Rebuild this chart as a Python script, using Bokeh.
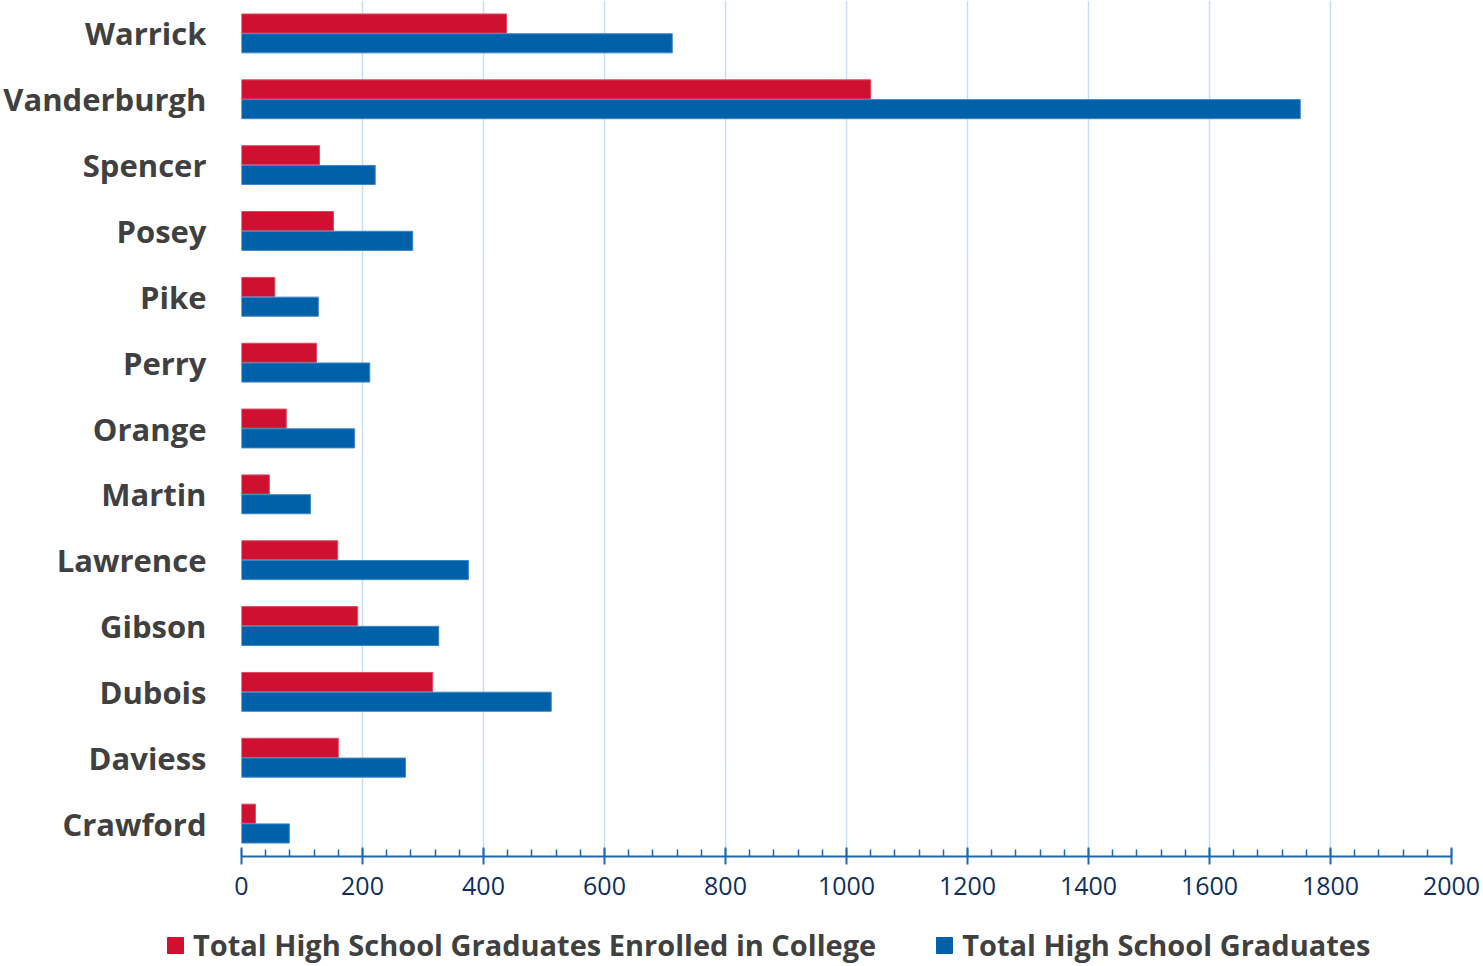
from bokeh.plotting import figure
from bokeh.models import (FactorRange, Range1d, Legend, LegendItem, SingleIntervalTicker,
                          LinearAxis, Grid, ColumnDataSource)
from bokeh.transform import dodge
from bokeh.embed import file_html
from bokeh.resources import INLINE

counties = ["Warrick", "Vanderburgh", "Spencer", "Posey", "Pike", "Perry", "Orange",
            "Martin", "Lawrence", "Gibson", "Dubois", "Daviess", "Crawford"]
enrolled = [438, 1040, 129, 152, 55, 124, 74, 46, 159, 192, 316, 160, 23]
graduates = [712, 1750, 221, 283, 127, 212, 187, 114, 375, 326, 512, 271, 79]
series_names = ["Total High School Graduates Enrolled in College", "Total High School Graduates"]

RED = "#CE1130"
BLUE = "#0060A8"

src = ColumnDataSource(dict(county=counties, enrolled=enrolled, graduates=graduates))

p = figure(y_range=FactorRange(factors=counties[::-1]), x_range=Range1d(0, 2000),
           frame_width=1210, frame_height=856, min_border_left=238, min_border_right=32,
           min_border_top=0, min_border_bottom=0,
           output_backend="svg", toolbar_location=None, x_axis_location=None)
p.outline_line_color = None
p.background_fill_color = "white"

p.hbar(y=dodge("county", 0.15, range=p.y_range), right="enrolled", left=0, height=0.29,
       source=src, fill_color=RED, line_color="#D94A5F", line_width=1)
p.hbar(y=dodge("county", -0.15, range=p.y_range), right="graduates", left=0, height=0.29,
       source=src, fill_color=BLUE, line_color="#3C86C8", line_width=1)

xaxis = LinearAxis(ticker=SingleIntervalTicker(interval=200, num_minor_ticks=5))
xaxis.axis_line_color = "#1F68B0"
xaxis.axis_line_width = 2
xaxis.major_tick_line_color = "#1F68B0"
xaxis.major_tick_line_width = 2
xaxis.major_tick_in = 9
xaxis.major_tick_out = 8
xaxis.minor_tick_line_color = "#1F68B0"
xaxis.minor_tick_line_width = 1.5
xaxis.minor_tick_in = 7
xaxis.minor_tick_out = 0
xaxis.major_label_text_font = "Open Sans"
xaxis.major_label_text_font_size = "25px"
xaxis.major_label_text_color = "#0E2F5E"
xaxis.major_label_standoff = 12
p.add_layout(xaxis, "below")

p.xgrid.grid_line_color = None
g = Grid(dimension=0, ticker=xaxis.ticker, grid_line_color="#C6DEF8", grid_line_width=1.5)
p.add_layout(g)
p.ygrid.grid_line_color = None

ya = p.yaxis[0]
ya.axis_line_color = None
ya.major_tick_line_color = None
ya.minor_tick_line_color = None
ya.major_label_text_font = "Open Sans"
ya.major_label_text_font_style = "bold"
ya.major_label_text_font_size = "31px"
ya.major_label_text_color = "#404040"
ya.major_label_standoff = 29

# legend strip: same series, drawn off-range so only the legend swatches show
p2 = figure(width=1480, height=67, x_range=Range1d(-10, -5),
            y_range=FactorRange(factors=counties[::-1]),
            min_border=0, min_border_left=0, min_border_right=0, min_border_top=0, min_border_bottom=0,
            output_backend="svg", toolbar_location=None, x_axis_location=None, y_axis_location=None)
p2.outline_line_color = None
p2.grid.visible = False
l1 = p2.hbar(y="county", right="enrolled", left=0, height=0.29, source=src,
             fill_color=RED, line_color=RED)
l2 = p2.hbar(y="county", right="graduates", left=0, height=0.29, source=src,
             fill_color=BLUE, line_color=BLUE)

legend = Legend(items=[LegendItem(label=series_names[0], renderers=[l1]),
                       LegendItem(label=series_names[1], renderers=[l2])],
                orientation="horizontal", location=(165, 0))
legend.label_text_font = "Open Sans"
legend.label_text_font_style = "bold"
legend.label_text_font_size = "29px"
legend.label_text_color = "#404040"
legend.glyph_width = 20
legend.glyph_height = 20
legend.label_standoff = 8
legend.spacing = 58
legend.padding = 0
legend.margin = 0
legend.border_line_color = None
legend.background_fill_alpha = 0
p2.add_layout(legend, "center")

open("out.html", "w").write(file_html([p, p2], INLINE))
